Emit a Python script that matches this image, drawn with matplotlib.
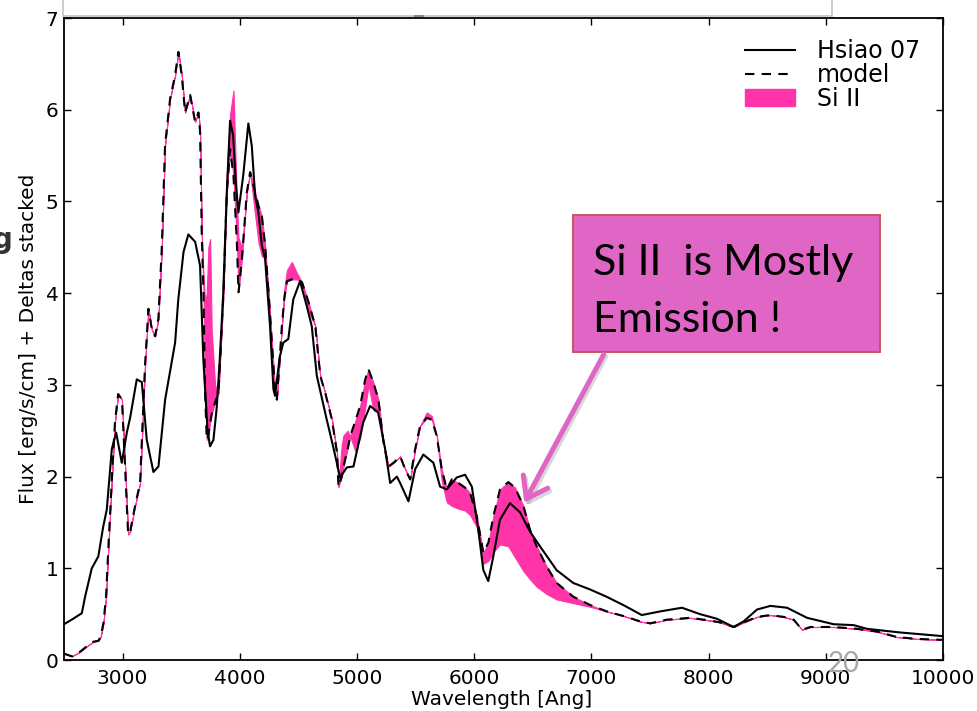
import matplotlib
matplotlib.use("Agg")
import matplotlib.pyplot as plt
from matplotlib.patches import Rectangle, FancyArrowPatch, Patch
from matplotlib.lines import Line2D
from matplotlib.legend_handler import HandlerLine2D

# ---------------- data ----------------
hsiao_wave = [2500, 2566, 2652, 2680, 2737, 2793, 2834, 2865, 2908, 2945, 2993, 3036, 3064,
              3121, 3164, 3206, 3263, 3306, 3363, 3448, 3475, 3520, 3561, 3619, 3661, 3689,
              3704, 3725, 3746, 3775, 3803, 3830, 3859, 3889, 3917, 3943, 3966, 3988, 4029,
              4073, 4102, 4131, 4159, 4188, 4216, 4258, 4287, 4301, 4340, 4371, 4414, 4456,
              4514, 4571, 4614, 4657, 4742, 4796, 4856, 4913, 4970, 5053, 5112, 5180, 5240,
              5283, 5340, 5368, 5439, 5496, 5566, 5652, 5709, 5766, 5851, 5922, 5980, 6035,
              6078, 6120, 6163, 6220, 6305, 6391, 6476, 6561, 6703, 6845, 6987, 7129, 7271,
              7430, 7588, 7773, 7927, 8070, 8213, 8298, 8413, 8527, 8669, 8840, 9067, 9238,
              9350, 9635, 10000]
hsiao_flux = [0.39, 0.44, 0.51, 0.69, 1.00, 1.13, 1.45, 1.64, 2.30, 2.48, 2.15, 2.48, 2.64,
              3.06, 3.03, 2.40, 2.05, 2.11, 2.84, 3.46, 3.93, 4.45, 4.64, 4.56, 4.30, 3.28,
              2.95, 2.50, 2.33, 2.40, 2.75, 3.30, 4.01, 5.10, 5.88, 5.72, 5.20, 4.88, 5.28,
              5.85, 5.61, 5.06, 4.88, 4.52, 4.37, 3.64, 2.95, 2.88, 3.30, 3.46, 3.50, 3.93,
              4.13, 3.86, 3.64, 3.10, 2.62, 2.33, 1.99, 2.10, 2.11, 2.59, 2.77, 2.70, 2.30,
              1.93, 2.00, 1.93, 1.73, 2.08, 2.24, 2.15, 1.89, 1.86, 1.99, 2.02, 1.89, 1.42,
              0.98, 0.86, 1.13, 1.53, 1.71, 1.61, 1.40, 1.24, 0.98, 0.84, 0.77, 0.69, 0.60,
              0.49, 0.53, 0.57, 0.50, 0.45, 0.36, 0.42, 0.55, 0.59, 0.57, 0.46, 0.39, 0.38,
              0.34, 0.30, 0.26]

model_wave = [2500, 2567, 2637, 2695, 2751, 2794, 2814, 2836, 2859, 2879, 2908, 2935, 2962,
              2994, 3021, 3047, 3064, 3106, 3149, 3191, 3220, 3250, 3277, 3305, 3334, 3362,
              3405, 3447, 3476, 3505, 3533, 3576, 3618, 3647, 3661, 3675, 3690, 3704, 3718,
              3732, 3747, 3760, 3789, 3818, 3861, 3889, 3917, 3946, 3975, 3989, 4018, 4060,
              4088, 4131, 4160, 4188, 4216, 4245, 4273, 4302, 4316, 4359, 4380, 4402, 4444,
              4487, 4530, 4587, 4644, 4686, 4729, 4786, 4829, 4842, 4870, 4885, 4920, 4942,
              4984, 5027, 5070, 5098, 5141, 5183, 5226, 5268, 5311, 5368, 5411, 5453, 5496,
              5538, 5595, 5638, 5681, 5723, 5766, 5809, 5865, 5922, 5965, 6022, 6078, 6121,
              6164, 6220, 6291, 6348, 6420, 6476, 6533, 6618, 6704, 6846, 6989, 7131, 7301,
              7416, 7501, 7644, 7843, 8014, 8099, 8213, 8299, 8413, 8527, 8641, 8726, 8797,
              8868, 9067, 9266, 9437, 9608, 9778, 10000]
model_flux = [0.07, 0.04, 0.09, 0.15, 0.20, 0.21, 0.26, 0.40, 0.69, 1.24, 1.97, 2.60, 2.90,
              2.84, 2.11, 1.37, 1.40, 1.68, 1.93, 3.21, 3.83, 3.60, 3.53, 3.72, 4.48, 5.61,
              6.12, 6.37, 6.63, 6.37, 5.97, 6.16, 5.87, 5.97, 5.76, 4.66, 4.01, 2.91, 2.40,
              2.45, 2.59, 2.68, 2.81, 2.91, 4.01, 5.10, 5.57, 5.28, 4.55, 4.01, 4.37, 5.10,
              5.32, 5.10, 4.95, 4.84, 4.52, 4.01, 3.46, 2.91, 2.84, 3.64, 3.95, 4.13, 4.15,
              4.15, 4.12, 3.90, 3.64, 3.10, 2.91, 2.62, 2.26, 1.89, 2.00, 2.11, 2.30, 2.44,
              2.60, 2.77, 3.06, 3.17, 3.02, 2.84, 2.37, 2.11, 2.15, 2.22, 2.08, 1.97, 2.30,
              2.55, 2.64, 2.62, 2.44, 2.08, 1.86, 1.97, 1.93, 1.88, 1.82, 1.57, 1.17, 1.28,
              1.57, 1.86, 1.94, 1.88, 1.68, 1.42, 1.24, 1.02, 0.84, 0.69, 0.60, 0.53, 0.47,
              0.42, 0.40, 0.44, 0.46, 0.43, 0.41, 0.36, 0.41, 0.47, 0.49, 0.47, 0.44, 0.33,
              0.36, 0.36, 0.34, 0.31, 0.25, 0.23, 0.22]
si_flux = [0.07, 0.04, 0.09, 0.15, 0.20, 0.21, 0.26, 0.40, 0.69, 1.24, 1.97, 2.60, 2.90,
           2.84, 2.11, 1.37, 1.40, 1.68, 1.93, 3.21, 3.83, 3.60, 3.53, 3.72, 4.48, 5.61,
           6.12, 6.37, 6.63, 6.37, 5.97, 6.16, 5.87, 5.97, 5.76, 4.66, 4.20, 3.90, 4.00,
           4.50, 4.59, 3.60, 3.00, 2.91, 4.10, 5.30, 5.95, 6.21, 5.00, 4.60, 4.50, 5.10,
           5.32, 4.85, 4.55, 4.40, 4.40, 4.01, 3.46, 2.91, 2.84, 3.64, 4.05, 4.25, 4.34,
           4.22, 4.12, 3.80, 3.64, 3.10, 2.91, 2.62, 2.26, 1.89, 2.35, 2.45, 2.50, 2.44,
           2.28, 2.42, 2.75, 3.00, 2.72, 2.70, 2.37, 2.11, 2.15, 2.22, 2.08, 1.97, 2.30,
           2.55, 2.70, 2.66, 2.44, 1.95, 1.72, 1.68, 1.65, 1.63, 1.58, 1.45, 1.05, 1.08,
           1.18, 1.26, 1.24, 1.12, 0.97, 0.88, 0.80, 0.72, 0.66, 0.62, 0.58, 0.53, 0.47,
           0.42, 0.40, 0.44, 0.46, 0.43, 0.41, 0.36, 0.41, 0.47, 0.49, 0.47, 0.44, 0.33,
           0.36, 0.36, 0.34, 0.31, 0.25, 0.23, 0.22]

x_ticks = [3000, 4000, 5000, 6000, 7000, 8000, 9000, 10000]
y_ticks = [0, 1, 2, 3, 4, 5, 6, 7]
series_labels = ["Hsiao 07", "model", "Si II"]
callout_lines = ["Si II  is Mostly", "Emission !"]
page_number = "20"

PINK = "#ff34a8"
W, H = 977, 711


def px(x, y):
    return (x / W, 1 - y / H)


class ShortLineHandler(HandlerLine2D):
    def create_artists(self, legend, orig_handle, xdescent, ydescent, width,
                       height, fontsize, trans):
        arts = super().create_artists(legend, orig_handle, xdescent, ydescent,
                                      width, height, fontsize, trans)
        for a in arts:
            xd = a.get_xdata()
            if len(xd) == 2:
                pad = 0.13 * width
                a.set_xdata([xd[0] + pad, xd[1] - pad])
        return arts


fig = plt.figure(figsize=(W / 100, H / 100), dpi=100)
fig.patch.set_facecolor("white")
ax = fig.add_axes([64 / W, 51 / H, 879 / W, 642 / H])

fill = ax.fill_between(model_wave, model_flux, si_flux, facecolor=PINK,
                       edgecolor=PINK, linewidth=0.8, zorder=1)
l_model, = ax.plot(model_wave, model_flux, color="black", lw=1.5,
                   ls=(0, (4.5, 3.5)), zorder=2)
l_hsiao, = ax.plot(hsiao_wave, hsiao_flux, color="black", lw=1.5, zorder=3)

ax.set_xlim(2500, 10000)
ax.set_ylim(0, 7)
ax.set_xticks(x_ticks)
ax.set_yticks(y_ticks)
ax.tick_params(direction="in", top=True, right=True, length=5, width=1,
               labelsize=14.5)
ax.tick_params(axis="x", pad=6.5)
ax.tick_params(axis="y", pad=4)
for s in ax.spines.values():
    s.set_linewidth(1.3)

ax.set_xlabel("Wavelength [Ang]", fontsize=14.5)
ax.set_ylabel("Flux [erg/s/cm] + Deltas stacked", fontsize=14.5)
ax.xaxis.set_label_coords(0.498, -0.046)
ax.yaxis.set_label_coords(-0.0296, 0.5)

leg = ax.legend([l_hsiao, l_model, Patch(facecolor=PINK, edgecolor=PINK)],
                series_labels, loc="upper left",
                bbox_to_anchor=((745 - 64) / 879, (660 - 39) / 642),
                frameon=False, fontsize=17, borderpad=0, borderaxespad=0,
                handlelength=2.1, handletextpad=0.95, labelspacing=0.0,
                handler_map={Line2D: ShortLineHandler()})

# top white box (slide overlay) with light shadow
fig.add_artist(Rectangle(px(63, 16), (832 - 63) / W, 20 / H,
                         transform=fig.transFigure, facecolor="white",
                         edgecolor="#c4c4c4", lw=1.2, zorder=5))
fig.add_artist(Rectangle(px(414, 17), 10 / W, 2 / H, transform=fig.transFigure,
                         facecolor="#888888", edgecolor="none", zorder=6))

# callout box
fig.add_artist(Rectangle(px(573, 352), (880 - 573) / W, (352 - 215) / H,
                         transform=fig.transFigure, facecolor="#e066c6",
                         edgecolor="#c9555a", lw=1.4, zorder=6))
fig.text(*px(593, 275), callout_lines[0], family="Lato", fontsize=31,
         va="baseline", ha="left", color="black", zorder=7)
fig.text(*px(593, 332), callout_lines[1], family="Lato", fontsize=31,
         va="baseline", ha="left", color="black", zorder=7)

# arrow (with soft shadow)
fig.add_artist(FancyArrowPatch(px(607, 354), px(525, 508),
                               transform=fig.transFigure,
                               arrowstyle="->,head_length=0.35,head_width=0.25",
                               mutation_scale=40, lw=3.6, color="#b0b0b0",
                               alpha=0.5, zorder=6))
fig.add_artist(FancyArrowPatch(px(605, 352), px(523, 505),
                               transform=fig.transFigure,
                               arrowstyle="->,head_length=0.35,head_width=0.25",
                               mutation_scale=40, lw=3.6, color="#e066c6",
                               zorder=7))

# page number and cut-off slide glyph
fig.text(*px(844, 664), page_number, family="Lato", fontsize=20,
         color="#a6a6a6", ha="center", va="center", zorder=8)
fig.text(*px(-7, 240), "g", fontsize=20, fontweight="bold", color="#333333",
         ha="left", va="center")

fig.savefig("out.png", dpi=100)
